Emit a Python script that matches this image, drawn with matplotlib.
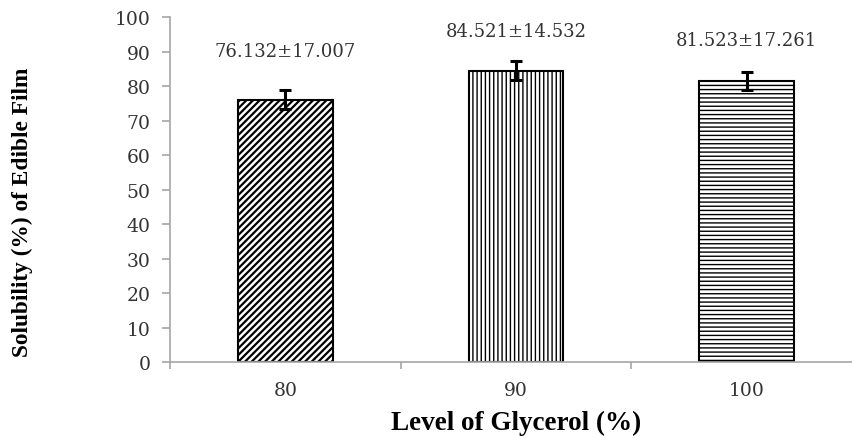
import matplotlib
matplotlib.use("Agg")
import matplotlib.pyplot as plt
import numpy as np

categories = ["80", "90", "100"]
means = [76.132, 84.521, 81.523]
drawn_err = [2.65, 2.7, 2.6]
labels = ["76.132±17.007", "84.521±14.532", "81.523±17.261"]
hatches = ["/////", "||||", "----"]
hatch_lw = [1.6, 1.0, 1.0]
label_offsets = [22, 15.5, 16.5]  # points above the error bar

plt.rcParams["font.family"] = "DejaVu Serif"

fig = plt.figure(figsize=(8.52, 4.39), dpi=100)
ax = fig.add_axes([170/852, 76/439, 692/852, 344.7/439])

x = np.arange(len(categories))
for i in range(len(categories)):
    plt.rcParams["hatch.linewidth"] = hatch_lw[i]
    ax.bar(x[i], means[i], width=0.41, color="white", edgecolor="black",
           linewidth=1.5, hatch=hatches[i], zorder=2)
    ax.errorbar(x[i], means[i], yerr=drawn_err[i], fmt="none", ecolor="black",
                elinewidth=2.2, capsize=4.2, capthick=2.2, zorder=3)
    ax.annotate(labels[i], xy=(x[i], means[i] + drawn_err[i]),
                xytext=(0, label_offsets[i]), textcoords="offset points",
                ha="center", va="bottom", fontsize=13, color="#333333")

ax.set_xlim(-0.5, 2.5)
ax.set_ylim(0, 100)
ax.set_yticks(np.arange(0, 101, 10))

ax.set_xticks(np.arange(-0.5, 2.6, 1.0))
ax.set_xticklabels([])
ax.set_xticks(x, minor=True)
ax.set_xticklabels(categories, minor=True)
ax.tick_params(axis="x", which="major", length=5, width=1.2, color="#a6a6a6", direction="out")
ax.tick_params(axis="x", which="minor", length=0, pad=13.5, labelsize=13.5, labelcolor="#333333")
ax.tick_params(axis="y", length=5.5, width=1.2, color="#a6a6a6", direction="out",
               pad=8.5, labelsize=13.5, labelcolor="#333333")

for s in ["top", "right"]:
    ax.spines[s].set_visible(False)
for s in ["left", "bottom"]:
    ax.spines[s].set_color("#a6a6a6")
    ax.spines[s].set_linewidth(1.2)
ax.spines["bottom"].set_zorder(4)

ax.set_xlabel("Level of Glycerol (%)", family="Liberation Serif", fontweight="bold",
              fontsize=19.5, labelpad=8)
fig.text(22/852, 1 - 212/439, "Solubility (%) of Edible Film", family="Liberation Serif",
         fontweight="bold", fontsize=16.8, rotation=90, ha="center", va="center")

fig.savefig("out.png", dpi=100)
